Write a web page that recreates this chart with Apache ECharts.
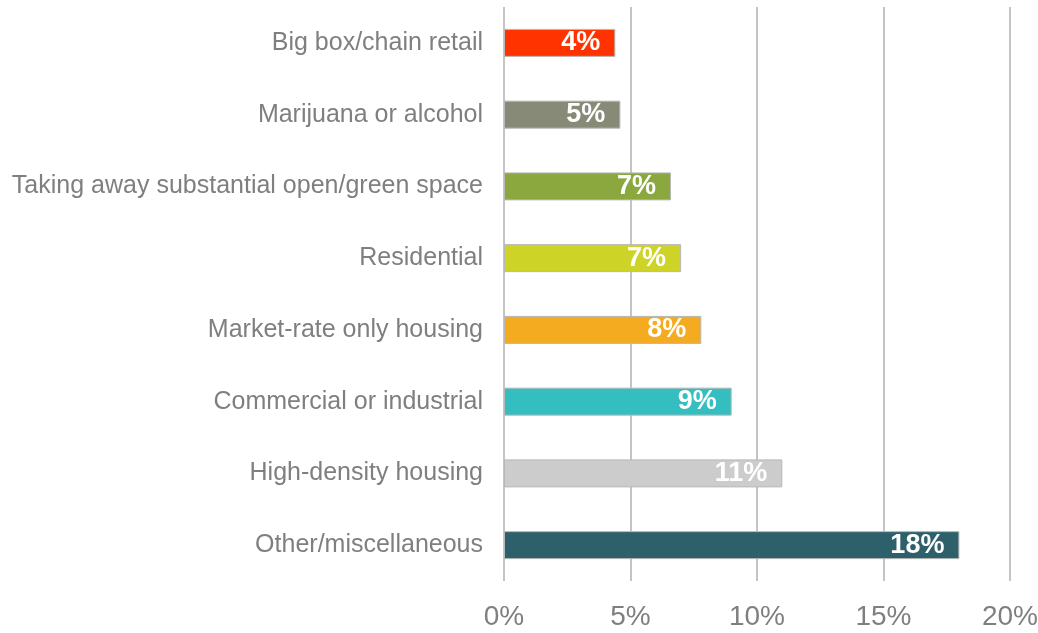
<!DOCTYPE html>
<html>
<head>
<meta charset="utf-8">
<script src="https://cdn.jsdelivr.net/npm/echarts@6/dist/echarts.min.js"></script>
<style>
  html, body { margin: 0; padding: 0; background: #fff; }
  #chart { width: 1038px; height: 633px; }
</style>
</head>
<body>
<div id="chart"></div>
<script>
// categories, top to bottom
const categories = [
  "Big box/chain retail",
  "Marijuana or alcohol",
  "Taking away substantial open/green space",
  "Residential",
  "Market-rate only housing",
  "Commercial or industrial",
  "High-density housing",
  "Other/miscellaneous"
]
// share of responses (%)
const values = [4.4, 4.6, 6.6, 7.0, 7.8, 9.0, 11.0, 18.0]
const valueLabels = ["4%", "5%", "7%", "7%", "8%", "9%", "11%", "18%"]
const barColors = ["#ff3300", "#878a76", "#8aa83e", "#cdd427", "#f5ab1f", "#35bec0", "#cccccc", "#2e606c"]
const xTicks = [0, 5, 10, 15, 20]

const font = "'Liberation Sans', Arial, sans-serif"

const chart = echarts.init(document.getElementById("chart"))

const option = {
  animation: false,
  grid: { left: 504, right: 28, top: 7, bottom: 52, outerBoundsMode: "none" },
  xAxis: {
    type: "value",
    min: xTicks[0],
    max: xTicks[xTicks.length - 1],
    interval: 5,
    axisLine: { show: false },
    axisTick: { show: false },
    splitLine: { lineStyle: { color: "#c4c4c4", width: 2 } },
    axisLabel: {
      formatter: "{value}%",
      color: "#7f7f7f",
      fontSize: 28,
      fontFamily: font,
      margin: 22
    }
  },
  yAxis: {
    type: "category",
    inverse: true,
    data: categories,
    axisLine: { show: false },
    axisTick: { show: false },
    axisLabel: {
      color: "#7f7f7f",
      fontSize: 25,
      fontFamily: font,
      margin: 21
    }
  },
  series: [
    {
      type: "bar",
      barWidth: 28,
      data: values.map((v, i) => ({
        value: v,
        itemStyle: { color: barColors[i] }
      })),
      itemStyle: { borderColor: "#b8b8b8", borderWidth: 1 },
      label: {
        show: true,
        position: "insideRight",
        distance: 15,
        color: "#fff",
        fontSize: 27,
        fontWeight: "bold",
        fontFamily: font,
        formatter: (p) => valueLabels[p.dataIndex]
      }
    }
  ]
}

chart.setOption(option)
</script>
</body>
</html>
